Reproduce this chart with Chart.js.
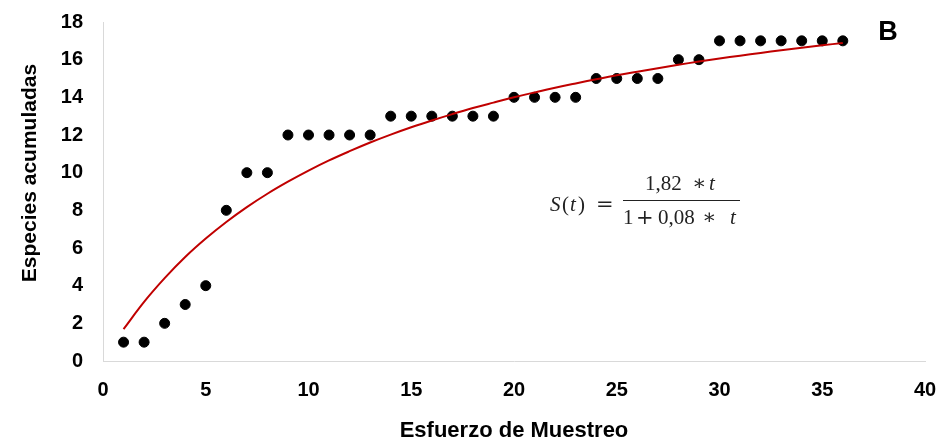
<!DOCTYPE html>
<html>
<head>
<meta charset="utf-8">
<script src="https://cdn.jsdelivr.net/npm/chart.js@4.4.0/dist/chart.umd.min.js"></script>
<style>
  html, body { margin: 0; padding: 0; background: #fff; }
  #wrap { width: 937px; height: 444px; }
</style>
</head>
<body>
<div id="wrap"><canvas id="chart" width="937" height="444"></canvas></div>
<script>
// --- DATA ---
const esfuerzo = [1, 2, 3, 4, 5, 6, 7, 8, 9, 10, 11, 12, 13, 14, 15, 16, 17, 18,
  19, 20, 21, 22, 23, 24, 25, 26, 27, 28, 29, 30, 31, 32, 33, 34, 35, 36];
const especies = [1, 1, 2, 3, 4, 8, 10, 10, 12, 12, 12, 12, 12, 13, 13, 13, 13, 13,
  13, 14, 14, 14, 14, 15, 15, 15, 15, 16, 16, 17, 17, 17, 17, 17, 17, 17];
// red fitted curve
const curva = [1.69, 3.14, 4.4, 5.52, 6.5, 7.38, 8.17, 8.88, 9.52, 10.11, 10.65, 11.14,
  11.6, 12.02, 12.41, 12.77, 13.11, 13.43, 13.72, 14.0, 14.26, 14.51, 14.74, 14.96,
  15.17, 15.36, 15.55, 15.73, 15.9, 16.06, 16.21, 16.36, 16.5, 16.63, 16.76, 16.89];
const xTicks = [0, 5, 10, 15, 20, 25, 30, 35, 40];
const yTicks = [0, 2, 4, 6, 8, 10, 12, 14, 16, 18];

const FONT = "'Liberation Sans', Arial, sans-serif";

// y title (sits a bit above centre), equation and panel letter
const extras = {
  id: "extras",
  afterDraw(chart) {
    const ctx = chart.ctx;
    ctx.save();
    ctx.fillStyle = "#000";
    ctx.textBaseline = "middle";
    ctx.textAlign = "center";
    ctx.font = "bold 21px " + FONT;
    ctx.translate(30, 173);
    ctx.rotate(-Math.PI / 2);
    ctx.fillText("Especies acumuladas", 0, 0);
    ctx.restore();

    ctx.save();
    ctx.fillStyle = "#000";
    ctx.font = "bold 27px " + FONT;
    ctx.textAlign = "center";
    ctx.textBaseline = "alphabetic";
    ctx.fillText("B", 888, 40);

    // S(t) = 1,82*t / (1 + 0,08*t)
    const serif = "21px 'Liberation Serif', serif";
    const serifI = "italic 21px 'Liberation Serif', serif";
    const ops = "21px 'DejaVu Serif', serif";
    ctx.fillStyle = "#222";
    ctx.textAlign = "left";
    const parts = [
      [serifI, "S", 550, 211], [serif, "(", 562, 211], [serifI, "t", 570, 211],
      [serif, ")", 578, 211], [ops, "=", 596, 211],
      [serif, "1,82", 645, 190], [ops, "\u2217", 692, 190], [serifI, "t", 709, 190],
      [serif, "1", 623, 224], [ops, "+", 636, 224], [serif, "0,08", 658, 224],
      [ops, "\u2217", 702, 224], [serifI, "t", 730, 224]
    ];
    parts.forEach(p => { ctx.font = p[0]; ctx.fillText(p[1], p[2], p[3]); });

    ctx.strokeStyle = "#222";
    ctx.lineWidth = 1;
    ctx.beginPath();
    ctx.moveTo(623, 200.5);
    ctx.lineTo(740, 200.5);
    ctx.stroke();
    ctx.restore();
  }
};

new Chart(document.getElementById("chart"), {
  type: "scatter",
  data: {
    datasets: [
      {
        label: "Curva",
        type: "line",
        data: esfuerzo.map((x, i) => ({ x: x, y: curva[i] })),
        borderColor: "#c00000",
        borderWidth: 2,
        pointRadius: 0,
        tension: 0.4,
        fill: false
      },
      {
        label: "Especies",
        data: esfuerzo.map((x, i) => ({ x: x, y: especies[i] })),
        backgroundColor: "#000",
        borderColor: "#000",
        pointRadius: 5
      }
    ]
  },
  options: {
    responsive: false,
    animation: false,
    layout: { autoPadding: false, padding: { top: 22, right: 12, left: 0, bottom: 0 } },
    plugins: { legend: { display: false }, tooltip: { enabled: false } },
    scales: {
      x: {
        type: "linear",
        min: 0, max: 40,
        afterBuildTicks: s => { s.ticks = xTicks.map(v => ({ value: v })); },
        afterFit: s => { s.height = 83; s.paddingLeft = 0; s.paddingRight = 0; },
        grid: { display: false, drawTicks: false },
        border: { display: true, color: "#d9d9d9", width: 1 },
        ticks: { padding: 17, color: "#000", font: { family: FONT, size: 20, weight: "bold" } },
        title: {
          display: true, text: "Esfuerzo de Muestreo", color: "#000",
          font: { family: FONT, size: 22, weight: "bold" }, padding: { bottom: 0 }
        }
      },
      y: {
        min: 0, max: 18,
        afterBuildTicks: s => { s.ticks = yTicks.map(v => ({ value: v })); },
        afterFit: s => { s.width = 103; s.paddingTop = 0; s.paddingBottom = 0; },
        grid: { display: false, drawTicks: false },
        border: { display: true, color: "#d9d9d9", width: 1 },
        ticks: { padding: 20, color: "#000", font: { family: FONT, size: 20, weight: "bold" } },
        title: { display: false }
      }
    }
  },
  plugins: [extras]
});
</script>
</body>
</html>
